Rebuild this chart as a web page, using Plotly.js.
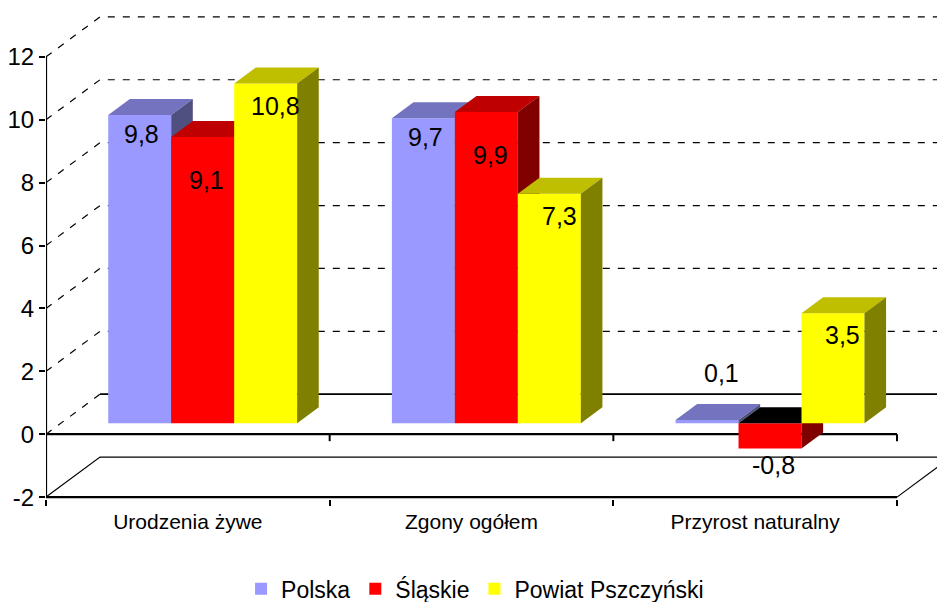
<!DOCTYPE html>
<html>
<head>
<meta charset="utf-8">
<script src="https://cdn.plot.ly/plotly-3.0.1.min.js"></script>
<style>html,body{margin:0;padding:0;background:#fff;}#chart{width:937px;height:602px;}</style>
</head>
<body>
<div id="chart"></div>
<script>
// ---- data ----
const categories = ['Urodzenia żywe', 'Zgony ogółem', 'Przyrost naturalny'];
const seriesNames = ['Polska', 'Śląskie', 'Powiat Pszczyński'];
const polska = [9.8, 9.7, 0.1];
const slaskie = [9.1, 9.9, -0.8];
const pszczynski = [10.8, 7.3, 3.5];
const yTickValues = [-2, 0, 2, 4, 6, 8, 10, 12];
const gridValues = [2, 4, 6, 8, 10, 12];

// ---- style / geometry ----
const seriesValues = [polska, slaskie, pszczynski];
const frontColors = ['#9999FF', '#FF0000', '#FFFF00'];
const topColors = ['#7373BF', '#BF0000', '#BFBF00'];
const sideColors = ['#505080', '#800000', '#808000'];
const labelDrop = [0.6, 1.36, 0.7];
const labelShift = [0.007, 0.014, 0.035];
const X_LO = -0.5, X_HI = 2.5;
const DX = 0.1904, DY = 1.272;     // depth of the 3D box
const F1 = 0.275, F2 = 0.675;      // bar front / back depth fractions
const BAR_W = 0.222;
const Y_MIN = -2, Y_MAX = 12;
const FONT = 'Liberation Sans, Arial, sans-serif';

const fmt = v => v.toFixed(1).replace('.', ',');
const traces = [];
function line(xs, ys, width, dash) {
  traces.push({x: xs, y: ys, mode: 'lines', type: 'scatter', hoverinfo: 'skip', showlegend: false,
    line: {color: '#000', width: width, dash: dash || 'solid'}});
}
function poly(xs, ys, color) {
  traces.push({x: xs.concat([xs[0]]), y: ys.concat([ys[0]]), mode: 'lines', type: 'scatter',
    fill: 'toself', fillcolor: color, line: {width: 0, color: color}, hoverinfo: 'skip', showlegend: false});
}

// walls: dashed grid on back wall and left wall
{
  const xs = [], ys = [];
  gridValues.forEach(v => { xs.push(X_LO, X_LO + DX, X_HI + DX, null); ys.push(v, v + DY, v + DY, null); });
  xs.push(X_LO, X_LO + DX, null); ys.push(0, DY, null);
  line(xs, ys, 1.2, '7px,8px');
}
// back zero line and floor
line([X_LO + DX, X_HI + DX], [DY, DY], 1.8);
line([X_LO, X_LO + DX, X_HI + DX, null, X_HI, X_HI + DX], [Y_MIN, Y_MIN + DY, Y_MIN + DY, null, Y_MIN, Y_MIN + DY], 1.2);
// front axis lines
line([X_LO, X_HI, null, X_LO, X_HI], [0, 0, null, Y_MIN, Y_MIN], 2.2);
line([X_LO, X_LO], [Y_MIN, Y_MAX], 2.2);
// category ticks on zero line
{
  const xs = [], ys = [];
  [0.5, 1.5, 2.5].forEach(c => { xs.push(c, c, null); ys.push(0, -0.22, null); });
  line(xs, ys, 2);
}

// bars
const annotations = [];
const offs = [-BAR_W, 0, BAR_W];
categories.forEach((cat, j) => {
  seriesValues.forEach((vals, i) => {
    const v = vals[j];
    const x0 = j + offs[i] - BAR_W / 2 + F1 * DX, x1 = x0 + BAR_W;
    const yb = F1 * DY, yt = yb + v;
    const d = (F2 - F1) * DX, dy = (F2 - F1) * DY;
    const ytop = Math.max(yb, yt);
    poly([x0, x1, x1, x0], [yb, yb, yt, yt], frontColors[i]);
    poly([x0, x1, x1 + d, x0 + d], [ytop, ytop, ytop + dy, ytop + dy], v >= 0 ? topColors[i] : '#000000');
    poly([x1, x1, x1 + d, x1 + d], [yb, yt, yt + dy, yb + dy], sideColors[i]);
    let ly;
    if (v < 0) ly = yt - 0.54;
    else if (v < 1) ly = yt + 1.5;
    else ly = yt - labelDrop[i];
    const lx = (x0 + x1) / 2 + (v >= 0 && v < 1 ? 0.05 : labelShift[i]);
    annotations.push({x: lx, y: ly, xref: 'x', yref: 'y', text: fmt(v), showarrow: false,
      font: {family: FONT, size: 25, color: '#000'}});
  });
});

// legend entries
seriesNames.forEach((n, i) => {
  traces.push({type: 'bar', x: [null], y: [null], name: n, marker: {color: frontColors[i]}, hoverinfo: 'skip'});
});
// overlay axis for category boundary ticks
traces.push({type: 'scatter', x: [null], y: [null], xaxis: 'x2', showlegend: false, hoverinfo: 'skip'});

const layout = {
  width: 937, height: 602,
  margin: {l: 46, r: 0, t: 10, b: 103},
  paper_bgcolor: '#fff', plot_bgcolor: '#fff',
  font: {family: FONT, color: '#000'},
  showlegend: true,
  xaxis: {range: [-0.5, 2.641], tickvals: [0, 1, 2], ticktext: categories, ticks: '',
    showgrid: false, zeroline: false, showline: false, tickfont: {size: 21}, ticklabelstandoff: 8,
    fixedrange: true},
  xaxis2: {overlaying: 'x', anchor: 'y', side: 'bottom', range: [-0.5, 2.641], tickvals: [-0.5, 0.5, 1.5, 2.5],
    ticks: 'outside', ticklen: 6, tickwidth: 2, tickcolor: '#000', showticklabels: false,
    showgrid: false, zeroline: false, showline: false},
  yaxis: {range: [-2.06, 13.49], tickvals: yTickValues, ticktext: yTickValues.map(String), ticks: 'outside',
    ticklen: 6, tickwidth: 2, tickcolor: '#000', showgrid: false, zeroline: false, showline: false,
    tickfont: {size: 24}, fixedrange: true},
  legend: {orientation: 'h', xref: 'container', yref: 'container', x: 0.507, xanchor: 'center',
    y: 0.022, yanchor: 'middle', font: {size: 23}, traceorder: 'normal'},
  annotations: annotations
};
Plotly.newPlot('chart', traces, layout, {displayModeBar: false, staticPlot: true});
</script>
</body>
</html>
